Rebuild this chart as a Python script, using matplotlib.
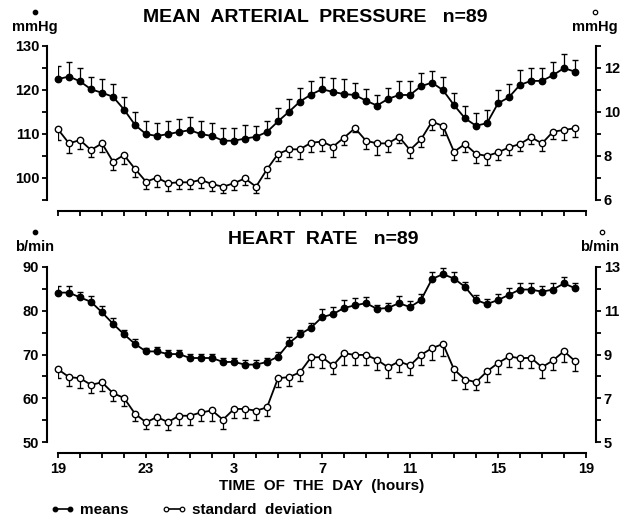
import numpy as np
import matplotlib
matplotlib.use("Agg")
import matplotlib.pyplot as plt
from matplotlib.lines import Line2D

plt.rcParams['font.family'] = ['Liberation Sans', 'DejaVu Sans']
plt.rcParams['font.weight'] = 'bold'
plt.rcParams['axes.labelweight'] = 'bold'

# half-hour sampling, hours counted from 19:00
hours = np.arange(0, 24, 0.5)
hour_ticks = np.arange(0, 25, 1)
hour_labels = ["19", "23", "3", "7", "11", "15", "19"]

# mean arterial pressure (mmHg): means with SEM, and SD with its error
map_mean = np.array([122.4, 123.0, 121.9, 120.1, 119.3, 118.4, 115.5, 112.0, 109.9, 109.5,
                     109.9, 110.4, 110.8, 109.9, 109.5, 108.4, 108.4, 108.9, 109.3, 110.4,
                     112.8, 115.0, 117.3, 118.9, 120.1, 119.5, 119.0, 118.8, 117.5, 116.4,
                     117.9, 118.8, 118.8, 120.8, 121.6, 119.9, 116.5, 113.5, 111.8, 112.4,
                     116.9, 118.3, 121.1, 122.0, 122.0, 123.3, 124.9, 124.1])
map_mean_err = np.array([3.1, 3.2, 3.1, 2.9, 3.1, 3.0, 2.9, 3.0, 3.0, 2.9, 3.0, 3.0, 3.0, 3.0,
                         3.0, 3.0, 3.0, 3.0, 2.5, 2.6, 3.1, 3.0, 3.2, 3.0, 2.9, 3.1, 3.4, 2.7,
                         2.6, 2.4, 2.6, 3.2, 3.2, 3.0, 2.7, 3.0, 2.8, 2.8, 3.0, 3.0, 3.0, 3.0,
                         3.3, 3.0, 2.9, 3.0, 3.2, 2.7])
map_sd = np.array([9.20, 8.56, 8.71, 8.26, 8.56, 7.73, 8.03, 7.40, 6.82, 7.00, 6.75, 6.79,
                   6.79, 6.90, 6.71, 6.59, 6.75, 6.97, 6.59, 7.38, 8.08, 8.29, 8.29, 8.59,
                   8.64, 8.41, 8.82, 9.25, 8.68, 8.56, 8.56, 8.86, 8.26, 8.74, 9.55, 9.35,
                   8.18, 8.53, 8.08, 7.99, 8.15, 8.38, 8.53, 8.84, 8.56, 9.09, 9.17, 9.25])
map_sd_err = np.array([0.48, 0.45, 0.41, 0.30, 0.38, 0.38, 0.41, 0.38, 0.33, 0.41, 0.35, 0.30,
                       0.30, 0.38, 0.32, 0.27, 0.30, 0.30, 0.30, 0.38, 0.32, 0.33, 0.45, 0.41,
                       0.41, 0.45, 0.33, 0.15, 0.39, 0.53, 0.38, 0.30, 0.38, 0.33, 0.38, 0.41,
                       0.38, 0.35, 0.42, 0.41, 0.35, 0.35, 0.30, 0.30, 0.33, 0.35, 0.45, 0.41])

# heart rate (b/min)
hr_mean = np.array([84.1, 84.1, 83.0, 82.0, 79.6, 77.0, 74.6, 72.4, 70.7, 70.7, 70.1, 70.1,
                    69.2, 69.2, 69.2, 68.3, 68.3, 67.7, 67.7, 68.3, 69.5, 72.6, 74.6, 76.1,
                    78.5, 79.2, 80.6, 81.2, 81.7, 80.4, 80.6, 81.7, 80.8, 82.4, 87.2, 88.3,
                    87.3, 85.4, 82.4, 81.5, 82.4, 83.6, 84.8, 84.8, 84.3, 84.8, 86.2, 85.1])
hr_mean_err = np.array([1.4, 1.5, 1.3, 1.4, 1.4, 1.4, 1.0, 1.1, 0.8, 0.9, 1.0, 1.0, 0.9, 0.9,
                        0.9, 0.9, 0.9, 1.1, 1.1, 0.9, 1.1, 1.5, 1.0, 1.0, 1.9, 1.7, 1.8, 1.7,
                        1.5, 0.9, 1.1, 1.6, 1.5, 1.4, 1.5, 1.5, 1.5, 1.2, 1.1, 1.1, 1.4, 1.5,
                        1.5, 1.5, 1.4, 1.5, 1.5, 1.1])
hr_sd = np.array([8.33, 7.97, 7.92, 7.62, 7.73, 7.24, 7.02, 6.30, 5.91, 6.15, 5.92, 6.21,
                  6.21, 6.36, 6.45, 6.03, 6.52, 6.52, 6.44, 6.59, 7.92, 7.97, 8.19, 8.87,
                  8.88, 8.50, 9.06, 8.98, 8.98, 8.76, 8.42, 8.68, 8.50, 8.98, 9.29, 9.48,
                  8.32, 7.86, 7.74, 8.23, 8.61, 8.91, 8.83, 8.85, 8.42, 8.73, 9.15, 8.70])
hr_sd_err = np.array([0.41, 0.42, 0.45, 0.38, 0.41, 0.38, 0.38, 0.35, 0.29, 0.35, 0.35, 0.41,
                      0.41, 0.41, 0.50, 0.41, 0.41, 0.41, 0.41, 0.38, 0.41, 0.42, 0.41, 0.42,
                      0.48, 0.41, 0.56, 0.48, 0.48, 0.48, 0.48, 0.48, 0.45, 0.48, 0.56, 0.53,
                      0.50, 0.45, 0.38, 0.48, 0.52, 0.48, 0.44, 0.45, 0.48, 0.45, 0.50, 0.47])

W, H = 629, 518
fig = plt.figure(figsize=(W / 100, H / 100), dpi=100)


def pt(px):
    return px * 72 / 100


def series(ax, y, err, up, filled):
    tips = y + err if up else y - err
    ax.vlines(hours, y, tips, color='k', lw=0.9, zorder=2)
    ax.plot(hours, tips, ls='none', marker='_', ms=5, mew=1.0, color='k', zorder=2)
    ax.plot(hours, y, color='k', lw=1.3, marker='o', ms=4.6,
            mfc='k' if filled else 'w', mec='k', mew=1.0, zorder=3, clip_on=False)


def panel(rect, lylim, lticks, llabels, rylim, rticks, rlabels, show_x):
    ax = fig.add_axes(rect)
    axr = ax.twinx()
    ax.set_xlim(0, 24)
    ax.set_ylim(*lylim)
    axr.set_ylim(*rylim)
    for s in ('top', 'right'):
        ax.spines[s].set_visible(False)
    for s in ('top', 'left', 'bottom'):
        axr.spines[s].set_visible(False)
    ax.spines['left'].set_position(('outward', pt(11)))
    ax.spines['left'].set_bounds(*lylim)
    ax.spines['bottom'].set_position(('outward', pt(11)))
    ax.spines['bottom'].set_bounds(0, 24)
    axr.spines['right'].set_position(('outward', pt(10)))
    axr.spines['right'].set_bounds(*rylim)
    for sp in (ax.spines['left'], ax.spines['bottom'], axr.spines['right']):
        sp.set_linewidth(1.5)
    ax.set_yticks(lticks)
    ax.set_yticklabels(llabels)
    axr.set_yticks(rticks)
    axr.set_yticklabels(rlabels)
    ax.set_xticks(hour_ticks)
    if show_x:
        ax.set_xticklabels([hour_labels[i // 4] if i % 4 == 0 else '' for i in hour_ticks])
    else:
        ax.set_xticklabels([])
    for a in (ax, axr):
        a.tick_params(direction='out', length=pt(5), width=1.3, labelsize=10.5, pad=2)
    ax.tick_params(axis='x', pad=3)
    return ax, axr


# top panel: mean arterial pressure
ax1, ax1r = panel([58 / W, 1 - 199.7 / H, 528 / W, 154 / H],
                  (95, 130), np.arange(95, 131, 5),
                  ['', '100', '', '110', '', '120', '', '130'],
                  (6, 13), np.arange(6, 14, 1),
                  ['6', '', '8', '', '10', '', '12', ''], False)
series(ax1, map_mean, map_mean_err, True, True)
series(ax1r, map_sd, map_sd_err, False, False)

# bottom panel: heart rate
ax2, ax2r = panel([58 / W, 1 - 442.3 / H, 528 / W, 175.6 / H],
                  (50, 90), np.arange(50, 91, 5),
                  ['50', '', '60', '', '70', '', '80', '', '90'],
                  (5, 13), np.arange(5, 14, 1),
                  ['5', '', '7', '', '9', '', '11', '', '13'], True)
series(ax2, hr_mean, hr_mean_err, True, True)
series(ax2r, hr_sd, hr_sd_err, False, False)
ax2.set_xlabel("TIME  OF  THE  DAY  (hours)", fontsize=11, fontweight='bold', labelpad=2)


def ftext(x, y, s, **kw):
    fig.text(x / W, 1 - y / H, s, ha='center', va='center', **kw)


ftext(315, 17, "MEAN  ARTERIAL  PRESSURE   n=89", fontsize=14)
ftext(323, 239, "HEART  RATE   n=89", fontsize=14)

# unit labels with the series symbol above
ftext(35, 27, "mmHg", fontsize=10.5)
ftext(595, 27, "mmHg", fontsize=10.5)
ftext(35, 247, "b/min", fontsize=10.5)
ftext(600, 247, "b/min", fontsize=10.5)
for x, y, fc in [(35, 12, 'k'), (595, 12, 'w'), (35, 232, 'k'), (602, 232, 'w')]:
    fig.add_artist(Line2D([x / W], [1 - y / H], marker='o', ms=3.2, mfc=fc,
                          mec='k', mew=0.9, ls='none'))

handles = [Line2D([], [], color='k', lw=1.2, marker='o', ms=3.3, mfc='k', mec='k', mew=0.9),
           Line2D([], [], color='k', lw=1.2, marker='o', ms=3.3, mfc='w', mec='k', mew=0.9)]
fig.legend(handles, ["means", "standard  deviation"], loc='center left',
           bbox_to_anchor=(50 / W, 1 - 510 / H), ncol=2, frameon=False, numpoints=2,
           handlelength=1.6, handletextpad=0.35, columnspacing=2.2, fontsize=11,
           borderaxespad=0, borderpad=0)

fig.savefig("out.png", dpi=100)
